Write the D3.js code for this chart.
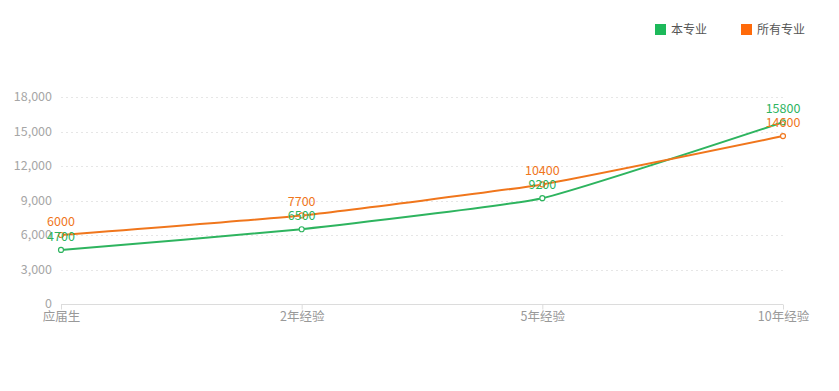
<!DOCTYPE html>
<html><head><meta charset="utf-8">
<script src="https://cdn.jsdelivr.net/npm/d3@7/dist/d3.min.js"></script>
<style>body{margin:0;background:#fff;}svg{display:block;font-family:"Noto Sans CJK SC","Noto Sans",sans-serif;}</style>
</head><body>
<svg id="c" width="839" height="391"></svg>
<script>
const categories = ["应届生", "2年经验", "5年经验", "10年经验"];
const seriesNames = ["本专业", "所有专业"];
const majorValues = [4700, 6500, 9200, 15800];
const allValues = [6000, 7700, 10400, 14600];
const yTicks = [0, 3000, 6000, 9000, 12000, 15000, 18000];
const colors = ["#2eb45f", "#f0761c"];
const legendColors = ["#1db95a", "#ff6a0a"];

const svg = d3.select("#c");
const x = d3.scalePoint().domain(categories).range([61, 783]);
const y = d3.scaleLinear().domain([0, 18000]).range([304, 97]);

svg.append("g").selectAll("line").data(yTicks.filter(d => d > 0)).join("line")
  .attr("x1", 61).attr("x2", 783).attr("y1", d => Math.round(y(d)) + 0.5).attr("y2", d => Math.round(y(d)) + 0.5)
  .attr("stroke", "#e6e6e6").attr("stroke-dasharray", "2,3");

svg.append("g").selectAll("text").data(yTicks).join("text")
  .attr("x", 52).attr("y", d => y(d)).attr("dy", "0.35em").attr("text-anchor", "end")
  .attr("fill", "#a6a6a6").attr("font-size", 12.5)
  .text(d => d3.format(",")(d));

const xAxis = d3.axisBottom(x).tickSize(5).tickSizeOuter(0);
const gx = svg.append("g").attr("transform", "translate(0,304.5)").call(xAxis);
gx.select(".domain").attr("stroke", "#dcdcdc").attr("d", "M61,0H783");
gx.selectAll(".tick line").attr("stroke", "#dcdcdc");
gx.selectAll(".tick text").attr("fill", "#999").attr("font-size", 12.5).attr("dy", "0.65em")
  .attr("font-family", '"Noto Sans CJK SC",sans-serif');

const line = d3.line().x((d, i) => x(categories[i])).y(d => y(d)).curve(d3.curveCardinal.tension(0.6));
const all = [majorValues, allValues];
all.forEach((vals, s) => {
  svg.append("path").datum(vals).attr("d", line).attr("fill", "none")
    .attr("stroke", colors[s]).attr("stroke-width", 2);
});
all.forEach((vals, s) => {
  svg.append("g").selectAll("circle").data(vals).join("circle")
    .attr("cx", (d, i) => x(categories[i])).attr("cy", d => y(d)).attr("r", 2.5)
    .attr("fill", "#fff").attr("stroke", colors[s]).attr("stroke-width", 1.2);
});
all.forEach((vals, s) => {
  svg.append("g").selectAll("text").data(vals).join("text")
    .attr("x", (d, i) => x(categories[i])).attr("y", d => y(d) - 9)
    .attr("text-anchor", "middle").attr("fill", colors[s]).attr("font-size", 12.5)
    .text(d => d);
});

const leg = [[655, seriesNames[0]], [741, seriesNames[1]]];
leg.forEach(([lx, name], i) => {
  svg.append("rect").attr("x", lx).attr("y", 24).attr("width", 11).attr("height", 11).attr("fill", legendColors[i]);
  svg.append("text").attr("x", lx + 16).attr("y", 30).attr("dy", "0.35em").attr("fill", "#555").attr("font-size", 12).text(name);
});
</script>
</body></html>
